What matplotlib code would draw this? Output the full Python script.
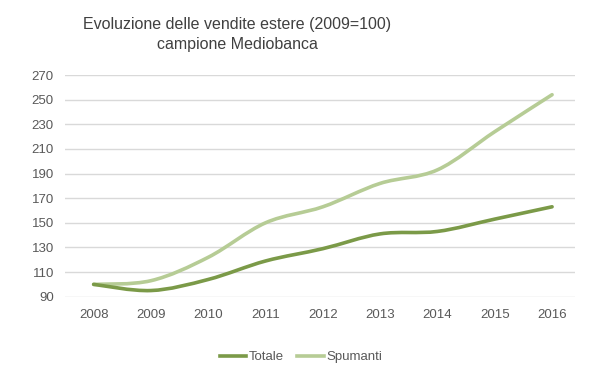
import matplotlib
matplotlib.use("Agg")
import matplotlib.pyplot as plt
from matplotlib.path import Path
from matplotlib.patches import PathPatch
from matplotlib.lines import Line2D
import numpy as np

# ==========================================
# Data
# ==========================================

years = ["2008", "2009", "2010", "2011", "2012", "2013", "2014", "2015", "2016"]
totale = [100, 95, 104, 119, 129, 141, 143, 153, 163]
spumanti = [100, 103, 122, 150, 163, 182, 193, 224, 254]
y_ticks = [90, 110, 130, 150, 170, 190, 210, 230, 250, 270]

TOTALE_COLOR = "#7b9a48"
SPUMANTI_COLOR = "#b6cc95"
TEXT_COLOR = "#595959"

plt.rcParams["font.family"] = ["Liberation Sans", "DejaVu Sans"]


def smooth_path(xs, ys):
    # Excel-style smoothed line: cubic bezier through every point
    pts = np.column_stack([xs, ys]).astype(float)
    n = len(pts)
    verts = [pts[0]]
    codes = [Path.MOVETO]
    for i in range(n - 1):
        p0 = pts[i - 1] if i > 0 else pts[i]
        p1 = pts[i]
        p2 = pts[i + 1]
        p3 = pts[i + 2] if i + 2 < n else pts[i + 1]
        c1 = p1 + (p2 - p0) / 6.0
        c2 = p2 - (p3 - p1) / 6.0
        verts += [c1, c2, p2]
        codes += [Path.CURVE4] * 3
    return Path(verts, codes)


fig = plt.figure(figsize=(5.99, 3.78), dpi=100)
ax = fig.add_axes([65 / 599, 1 - 296.7 / 378, 510 / 599, (296.7 - 75) / 378])

x = np.arange(len(years))

for series, color in [(spumanti, SPUMANTI_COLOR), (totale, TOTALE_COLOR)]:
    patch = PathPatch(smooth_path(x, series), facecolor="none", edgecolor=color,
                      lw=2.6, capstyle="round", joinstyle="round", zorder=3)
    ax.add_patch(patch)

ax.set_xlim(-0.5, 8.4)
ax.set_ylim(90, 270)
ax.set_yticks(y_ticks)
ax.set_xticks(x)
ax.set_xticklabels(years)

ax.grid(axis="y", color="#d9d9d9", lw=1)
ax.set_axisbelow(True)
for s in ax.spines.values():
    s.set_visible(False)
ax.tick_params(axis="both", length=0, colors=TEXT_COLOR, labelsize=9.5)
ax.tick_params(axis="y", pad=8)
ax.tick_params(axis="x", pad=9)

title_font = ["Liberation Sans Narrow", "Liberation Sans", "DejaVu Sans"]
fig.text(237 / 599, 1 - 25 / 378, "Evoluzione delle vendite estere (2009=100)",
         ha="center", va="center", fontsize=11.5, color="#404040", family=title_font)
fig.text(237 / 599, 1 - 45 / 378, "campione Mediobanca",
         ha="center", va="center", fontsize=11.5, color="#404040", family=title_font)

handles = [Line2D([], [], color=TOTALE_COLOR, lw=2.6),
           Line2D([], [], color=SPUMANTI_COLOR, lw=2.6)]
leg = fig.legend(handles, ["Totale", "Spumanti"], loc="center",
                 bbox_to_anchor=(301 / 599, 1 - 357 / 378), ncol=2, frameon=False,
                 fontsize=9.5, handlelength=2.0, handletextpad=0.2, columnspacing=1.0)
for t in leg.get_texts():
    t.set_color(TEXT_COLOR)

plt.savefig("out.png", dpi=100)
